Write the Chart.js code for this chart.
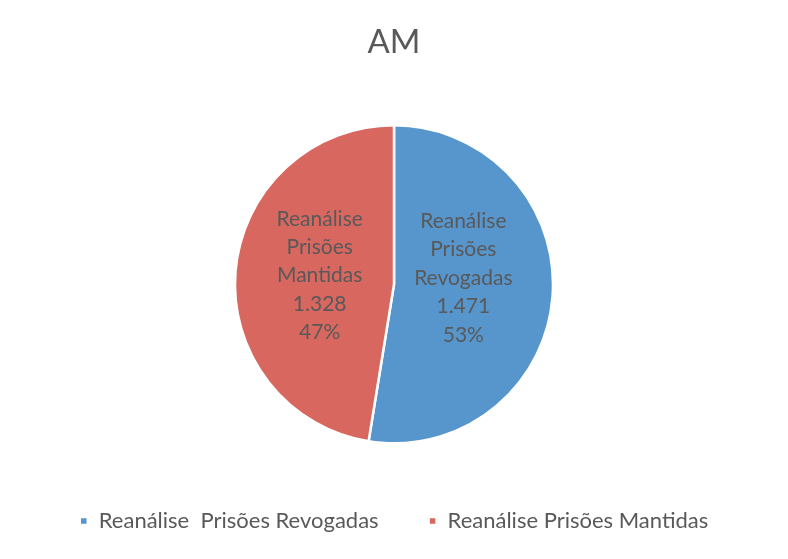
<!DOCTYPE html>
<html>
<head>
<meta charset="utf-8">
<script src="https://cdn.jsdelivr.net/npm/chart.js@4"></script>
<style>
  html, body { margin: 0; padding: 0; background: #fff; }
  #wrap { width: 788px; height: 559px; }
</style>
</head>
<body>
<div id="wrap"><canvas id="pieChart" width="788" height="559"></canvas></div>
<script>
// Datos del gráfico
const titulo = 'AM';
const categorias = ['Reanálise  Prisões Revogadas', 'Reanálise Prisões Mantidas'];
const etiquetas = [['Reanálise', 'Prisões', 'Revogadas'], ['Reanálise', 'Prisões', 'Mantidas']];
const valores = [1471, 1328];
const colores = ['#5796cc', '#d8675f'];

// Plugin para dibujar las etiquetas dentro de cada porción
const etiquetasPlugin = {
    id: 'etiquetasPie',
    afterDatasetsDraw(chart, args, opts) {
        const ctx = chart.ctx;
        const meta = chart.getDatasetMeta(0);
        const total = valores.reduce((a, b) => a + b, 0);
        ctx.save();
        ctx.font = '21px Lato';
        ctx.fillStyle = '#595959';
        ctx.textAlign = 'center';
        ctx.textBaseline = 'middle';
        meta.data.forEach((arc, i) => {
            const mid = (arc.startAngle + arc.endAngle) / 2;
            const r = arc.outerRadius * 0.45;
            const x = arc.x + Math.cos(mid) * r + opts.desplazamientoX[i];
            const y = arc.y + Math.sin(mid) * r + opts.desplazamientoY[i];
            const lineas = etiquetas[i].concat([
                valores[i].toLocaleString('pt-BR'),
                Math.round(valores[i] / total * 100) + '%'
            ]);
            const alto = 28.4;
            lineas.forEach((t, j) => {
                ctx.fillText(t, x, y + (j - (lineas.length - 1) / 2) * alto);
            });
        });
        ctx.restore();
    }
};

const ctx = document.getElementById('pieChart').getContext('2d');
new Chart(ctx, {
    type: 'pie',
    data: {
        labels: categorias,
        datasets: [{
            data: valores,
            backgroundColor: colores,
            borderColor: '#ffffff',
            borderWidth: 2.5,
            radius: 159
        }]
    },
    options: {
        responsive: false,
        animation: false,
        layout: { padding: { top: 0, bottom: 17 } },
        plugins: {
            title: {
                display: true,
                text: titulo,
                color: '#595959',
                font: { family: 'Lato', size: 33, weight: 'normal' },
                padding: { top: 23, bottom: 46 }
            },
            legend: {
                position: 'bottom',
                labels: {
                    color: '#595959',
                    font: { family: 'Lato', size: 22 },
                    boxWidth: 8,
                    boxHeight: 8,
                    padding: 50
                }
            },
            tooltip: { enabled: false },
            etiquetasPie: { desplazamientoX: [-2, -3], desplazamientoY: [-12, -3] }
        }
    },
    plugins: [etiquetasPlugin]
});
</script>
</body>
</html>
